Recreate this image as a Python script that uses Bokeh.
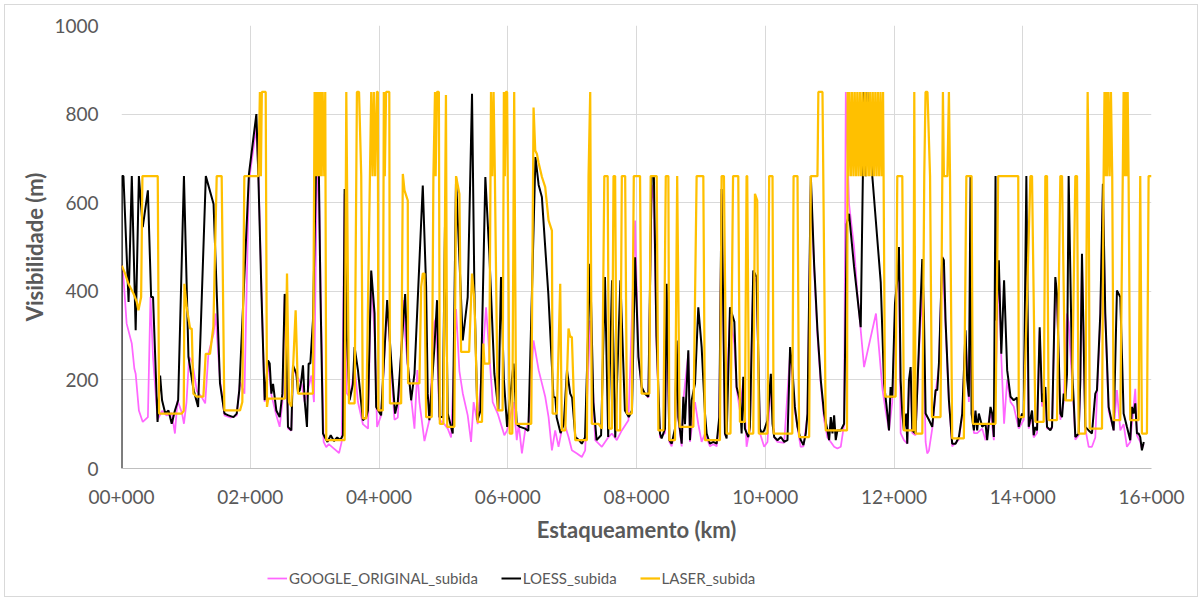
from bokeh.plotting import figure
from bokeh.layouts import column
from bokeh.models import Legend, LegendItem, FixedTicker, Range1d
from bokeh.embed import file_html
from bokeh.resources import INLINE

# Station (km) and visibility (m) pairs for each series
google_pts = [
    (0.0, 460), (0.03, 432), (0.08, 327), (0.16, 282), (0.2, 225), (0.22, 214), (0.27, 131), (0.33, 105),
    (0.41, 116), (0.45, 387), (0.49, 250), (0.56, 110), (0.63, 130), (0.7, 120), (0.78, 125), (0.83, 79),
    (0.87, 154), (0.94, 125), (0.97, 101), (1.01, 150), (1.05, 252), (1.1, 240), (1.17, 175), (1.25, 160),
    (1.3, 147), (1.35, 259), (1.43, 304), (1.46, 350), (1.53, 200), (1.6, 120), (1.7, 115), (1.79, 120),
    (1.84, 195), (1.91, 169), (1.98, 650),
    (2.095, 770), (2.13, 650), (2.2, 270), (2.224, 150), (2.276, 240), (2.33, 165), (2.405, 120), (2.457, 94),
    (2.5, 150), (2.535, 390), (2.586, 90), (2.638, 85), (2.664, 230), (2.716, 210), (2.8, 190), (2.845, 150),
    (2.9, 180), (2.95, 210), (2.99, 150), (3.03, 600), (3.06, 700), (3.1, 350), (3.14, 60), (3.18, 48),
    (3.22, 55), (3.3, 45), (3.38, 35), (3.42, 60), (3.466, 620), (3.5, 170), (3.55, 160), (3.621, 230),
    (3.673, 150), (3.75, 100), (3.83, 90), (3.879, 440), (3.931, 300), (3.97, 94),
    (4.033, 120), (4.127, 370), (4.189, 230), (4.24, 110), (4.292, 115), (4.385, 380), (4.406, 300),
    (4.447, 230), (4.499, 160), (4.551, 90), (4.595, 222), (4.628, 150), (4.706, 62), (4.783, 110),
    (4.861, 330), (4.887, 340), (4.939, 110), (5.016, 100), (5.068, 90), (5.12, 70), (5.197, 360),
    (5.249, 220), (5.301, 170), (5.378, 120), (5.43, 60), (5.47, 150), (5.533, 100), (5.585, 200),
    (5.663, 364), (5.766, 150), (5.844, 124), (5.947, 75),
    (5.99, 86), (6.09, 150), (6.14, 64), (6.17, 100), (6.22, 34), (6.27, 86), (6.32, 101), (6.4, 289),
    (6.48, 222), (6.582, 162), (6.634, 116), (6.686, 41), (6.737, 86), (6.789, 49), (6.867, 109),
    (6.944, 71), (6.996, 41), (7.075, 34), (7.151, 26), (7.203, 41), (7.28, 334), (7.358, 64), (7.462, 49),
    (7.565, 71), (7.617, 79), (7.694, 64), (7.772, 86), (7.875, 109),
    (7.978, 560), (8.03, 250), (8.08, 180), (8.184, 160), (8.236, 640), (8.27, 600), (8.31, 280),
    (8.365, 70), (8.443, 80), (8.469, 400), (8.51, 60), (8.546, 50), (8.598, 85), (8.624, 280), (8.65, 110),
    (8.702, 50), (8.728, 155), (8.805, 260), (8.831, 60), (8.909, 150), (8.96, 100), (9.012, 60),
    (9.064, 79), (9.141, 50), (9.193, 55), (9.245, 50), (9.286, 110), (9.322, 620), (9.374, 75),
    (9.452, 350), (9.52, 280), (9.555, 180), (9.607, 130), (9.659, 200), (9.71, 49), (9.762, 90),
    (9.814, 440), (9.865, 420), (9.917, 80),
    (9.983, 49), (10.035, 60), (10.087, 200), (10.139, 70), (10.19, 60), (10.294, 58), (10.386, 260),
    (10.46, 130), (10.55, 49), (10.593, 50), (10.656, 120), (10.708, 640), (10.759, 450), (10.811, 300),
    (10.863, 190), (10.914, 110), (10.966, 70), (11.018, 60), (11.07, 49), (11.121, 45), (11.173, 49),
    (11.225, 100), (11.251, 850), (11.302, 597), (11.38, 500), (11.432, 394), (11.535, 229), (11.72, 350),
    (11.82, 180), (11.87, 130),
    (11.922, 86), (11.973, 150), (12.015, 340), (12.051, 420), (12.077, 480), (12.103, 80), (12.154, 64),
    (12.206, 56), (12.232, 190), (12.258, 220), (12.284, 80), (12.335, 75), (12.387, 260), (12.439, 400),
    (12.491, 60), (12.516, 34), (12.542, 40), (12.594, 90), (12.646, 170), (12.698, 230), (12.749, 480),
    (12.801, 320), (12.853, 150), (12.904, 50), (13.008, 65), (13.06, 120), (13.111, 300), (13.163, 150),
    (13.2, 300), (13.241, 80), (13.292, 80), (13.37, 90), (13.422, 64), (13.499, 130), (13.551, 64),
    (13.6, 300), (13.628, 460), (13.667, 250), (13.71, 101), (13.758, 200), (13.81, 150), (13.86, 140),
    (13.938, 90), (14.015, 110), (14.056, 500), (14.093, 90), (14.144, 120), (14.17, 70), (14.222, 80),
    (14.263, 310), (14.3, 140), (14.351, 170), (14.377, 90), (14.455, 90), (14.506, 420), (14.532, 380),
    (14.584, 110), (14.636, 150), (14.688, 350), (14.713, 330), (14.765, 200), (14.791, 140), (14.817, 65),
    (14.869, 75), (14.894, 190), (14.92, 470), (14.972, 90), (15.024, 49), (15.075, 49), (15.127, 70),
    (15.153, 160), (15.205, 340), (15.245, 620), (15.282, 340), (15.334, 130), (15.412, 86), (15.463, 177),
    (15.515, 86), (15.567, 100), (15.618, 49), (15.67, 60), (15.722, 140), (15.748, 180), (15.774, 75),
    (15.825, 60), (15.851, 45), (15.88, 55),
]

loess_pts = [
    (0.0, 0), (0.005, 660), (0.03, 660), (0.11, 376), (0.16, 660), (0.22, 312), (0.27, 660), (0.33, 545),
    (0.41, 628), (0.46, 387), (0.49, 387), (0.56, 105), (0.6, 210), (0.63, 154), (0.68, 124), (0.73, 131),
    (0.78, 101), (0.83, 131), (0.88, 154), (0.97, 660), (1.04, 252), (1.12, 177), (1.19, 139), (1.31, 660),
    (1.43, 597), (1.53, 192), (1.6, 124), (1.66, 120), (1.74, 116), (1.79, 124), (1.83, 177), (1.98, 665),
    (2.095, 800), (2.126, 660), (2.173, 400), (2.199, 274), (2.224, 154), (2.276, 244), (2.302, 237),
    (2.328, 169), (2.354, 191), (2.405, 131), (2.457, 116), (2.499, 169), (2.535, 394), (2.55, 387),
    (2.586, 94), (2.638, 86), (2.664, 233), (2.716, 214), (2.742, 172), (2.768, 176), (2.793, 199),
    (2.819, 233), (2.845, 154), (2.881, 94), (2.907, 237), (2.933, 237), (2.974, 334), (3.02, 660),
    (3.05, 850), (3.09, 400), (3.13, 79), (3.16, 70), (3.2, 60), (3.25, 75), (3.3, 62), (3.35, 70),
    (3.4, 65), (3.44, 75), (3.466, 631), (3.5, 300), (3.543, 154), (3.595, 190), (3.621, 274), (3.673, 222),
    (3.75, 109), (3.802, 116), (3.828, 131), (3.879, 447), (3.931, 350),
    (3.956, 139), (4.033, 120), (4.127, 380), (4.189, 244), (4.25, 124), (4.292, 150), (4.406, 394),
    (4.447, 237), (4.499, 154), (4.551, 214), (4.68, 639), (4.732, 410), (4.757, 169), (4.783, 109),
    (4.861, 274), (4.902, 380), (4.939, 116), (4.99, 116), (5.026, 560), (5.068, 124), (5.145, 79),
    (5.197, 658), (5.301, 289), (5.378, 387), (5.445, 846), (5.482, 400), (5.53, 109), (5.575, 130),
    (5.652, 658), (5.714, 485), (5.792, 214), (5.854, 131), (5.895, 432), (5.94, 200),
    (5.99, 94), (6.09, 237), (6.14, 100), (6.19, 94), (6.27, 90), (6.32, 85), (6.43, 703), (6.48, 640),
    (6.53, 613), (6.63, 395), (6.71, 162), (6.74, 160), (6.76, 115), (6.82, 80), (6.87, 100), (6.92, 222),
    (6.97, 169), (7.0, 160), (7.05, 71), (7.1, 65), (7.15, 56), (7.2, 70), (7.28, 462), (7.33, 150),
    (7.38, 64), (7.45, 75), (7.51, 432), (7.56, 71), (7.62, 425), (7.67, 70), (7.75, 425), (7.82, 131),
    (7.88, 116), (7.93, 131),
    (7.978, 477), (8.03, 252), (8.08, 184), (8.13, 169), (8.184, 162), (8.236, 660), (8.27, 660), (8.31, 300),
    (8.365, 79), (8.39, 68), (8.443, 90), (8.469, 417), (8.51, 64), (8.546, 56), (8.598, 90), (8.624, 289),
    (8.65, 116), (8.702, 56), (8.728, 162), (8.753, 100), (8.805, 267), (8.831, 64), (8.857, 154),
    (8.909, 192), (8.96, 364), (9.012, 274), (9.064, 124), (9.09, 79), (9.141, 56), (9.193, 60), (9.245, 56),
    (9.286, 116), (9.322, 631), (9.374, 79), (9.4, 68), (9.452, 364), (9.52, 331), (9.555, 184), (9.607, 154),
    (9.633, 79), (9.659, 207), (9.684, 90), (9.736, 71), (9.762, 94), (9.814, 447), (9.865, 432), (9.917, 90),
    (9.948, 79), (9.983, 86), (10.035, 109), (10.087, 214), (10.113, 101), (10.139, 71), (10.19, 64),
    (10.242, 71), (10.294, 60), (10.345, 64), (10.386, 274), (10.423, 222), (10.46, 139), (10.501, 94),
    (10.552, 64), (10.593, 53), (10.63, 79), (10.656, 124), (10.708, 660), (10.759, 462), (10.811, 312),
    (10.863, 199), (10.914, 124), (10.966, 86), (10.992, 64), (11.018, 116), (11.044, 79), (11.07, 120),
    (11.095, 64), (11.121, 86), (11.173, 86), (11.225, 101), (11.266, 552), (11.302, 575), (11.38, 455),
    (11.483, 319), (11.535, 850), (11.561, 660), (11.587, 850), (11.664, 658), (11.794, 420), (11.845, 192),
    (11.897, 124),
    (11.922, 86), (11.947, 184), (11.973, 160), (12.015, 372), (12.051, 425), (12.077, 500), (12.103, 199),
    (12.129, 124), (12.154, 86), (12.19, 124), (12.206, 56), (12.232, 199), (12.258, 229), (12.284, 86),
    (12.335, 79), (12.387, 274), (12.439, 473), (12.465, 350), (12.491, 124), (12.542, 110), (12.594, 94),
    (12.646, 177), (12.672, 177), (12.698, 237), (12.749, 477), (12.775, 470), (12.801, 334), (12.853, 154),
    (12.904, 56), (12.956, 56), (13.008, 71), (13.06, 124), (13.111, 312), (13.137, 199), (13.163, 162),
    (13.189, 660), (13.205, 124), (13.241, 86), (13.266, 131), (13.292, 86), (13.318, 124), (13.37, 94),
    (13.422, 101), (13.447, 64), (13.499, 139), (13.525, 124), (13.551, 71), (13.577, 660), (13.59, 334),
    (13.628, 470), (13.667, 259), (13.71, 425), (13.758, 222), (13.81, 162), (13.86, 154),
    (13.912, 160), (13.938, 94), (13.989, 124), (14.015, 120), (14.056, 660), (14.093, 94), (14.144, 131),
    (14.17, 75), (14.196, 94), (14.222, 86), (14.263, 319), (14.3, 150), (14.351, 184), (14.377, 94),
    (14.429, 86), (14.455, 94), (14.506, 432), (14.532, 394), (14.584, 124), (14.61, 116), (14.636, 169),
    (14.662, 154), (14.688, 214), (14.713, 660), (14.765, 229), (14.791, 154), (14.817, 71), (14.869, 79),
    (14.894, 199), (14.92, 485), (14.972, 94), (15.024, 86), (15.075, 79), (15.127, 169), (15.153, 177),
    (15.205, 350), (15.245, 643), (15.282, 350), (15.334, 139), (15.412, 86), (15.463, 402), (15.515, 387),
    (15.567, 124), (15.618, 94), (15.67, 64), (15.696, 139), (15.722, 124), (15.748, 147), (15.774, 79),
    (15.8, 79), (15.825, 71), (15.851, 41), (15.88, 60),
]

laser_pts = [
    (0.005, 458), (0.056, 440), (0.108, 417), (0.186, 395), (0.237, 376), (0.263, 357), (0.305, 387),
    (0.325, 660), (0.563, 660), (0.584, 124), (0.936, 124), (0.967, 130), (0.977, 417), (1.013, 364),
    (1.065, 316), (1.091, 316), (1.117, 169), (1.168, 162), (1.272, 162), (1.308, 259), (1.375, 259),
    (1.427, 320), (1.479, 660), (1.556, 660), (1.598, 131), (1.841, 131), (1.877, 150), (1.908, 660),
    (2.126, 660), (2.15, 850), (2.165, 660), (2.18, 850), (2.24, 850), (2.26, 139), (2.28, 158), (2.54, 158),
    (2.571, 440), (2.602, 150), (2.638, 140), (2.705, 357), (2.742, 169), (2.974, 169), (3.0, 850),
    (3.015, 660), (3.03, 850), (3.05, 660), (3.065, 850), (3.08, 660), (3.095, 850), (3.11, 660),
    (3.125, 850), (3.15, 660), (3.165, 850), (3.181, 64), (3.466, 64), (3.492, 850), (3.533, 147),
    (3.621, 147), (3.657, 850), (3.69, 850), (3.724, 660), (3.75, 113), (3.802, 113), (3.879, 850),
    (3.9, 660), (3.92, 850), (3.94, 660), (3.967, 850), (3.982, 850), (3.99, 131),
    (4.059, 131), (4.075, 850), (4.09, 660), (4.11, 850), (4.16, 850), (4.17, 147), (4.344, 147),
    (4.37, 665), (4.396, 628), (4.447, 605), (4.452, 192), (4.628, 192), (4.655, 410), (4.68, 440),
    (4.706, 440), (4.732, 116), (4.82, 116), (4.845, 660), (4.87, 850), (4.88, 660), (4.9, 850), (4.93, 850),
    (4.945, 101), (5.0, 101), (5.04, 843), (5.06, 94), (5.17, 94), (5.197, 660), (5.249, 620), (5.275, 263),
    (5.4, 263), (5.445, 440), (5.482, 380), (5.533, 105), (5.6, 105), (5.621, 282), (5.637, 237),
    (5.714, 237), (5.74, 850), (5.76, 660), (5.78, 850), (5.8, 660), (5.844, 131), (5.92, 131),
    (5.94, 850), (5.955, 660), (5.97, 850), (5.99, 850), (6.03, 79), (6.07, 79), (6.1, 850), (6.13, 101),
    (6.365, 101), (6.401, 815), (6.427, 718), (6.453, 710), (6.479, 690), (6.531, 658), (6.582, 635),
    (6.634, 560), (6.686, 537), (6.697, 124), (6.763, 124), (6.815, 417), (6.84, 86), (6.893, 86),
    (6.944, 316), (6.97, 297), (6.996, 297), (7.048, 64), (7.229, 64), (7.255, 660), (7.281, 850),
    (7.306, 101), (7.41, 101), (7.462, 90), (7.5, 660), (7.552, 660), (7.575, 90), (7.617, 90), (7.643, 660),
    (7.668, 660), (7.694, 86), (7.746, 86), (7.772, 660), (7.824, 660), (7.85, 124), (7.927, 124),
    (7.958, 660),
    (8.055, 660), (8.08, 169), (8.2, 169), (8.22, 660), (8.314, 660), (8.34, 86), (8.417, 86), (8.455, 660),
    (8.495, 660), (8.51, 64), (8.598, 64), (8.632, 660), (8.67, 94), (8.883, 94), (8.934, 660), (9.038, 660),
    (9.064, 64), (9.296, 64), (9.322, 660), (9.358, 660), (9.4, 79), (9.46, 79), (9.5, 660), (9.581, 660),
    (9.607, 105), (9.684, 105), (9.71, 660), (9.72, 660), (9.75, 79), (9.814, 79), (9.84, 620), (9.875, 605),
    (9.9, 79),
    (10.035, 79), (10.061, 660), (10.113, 660), (10.13, 79), (10.42, 79), (10.44, 660), (10.501, 660),
    (10.526, 71), (10.682, 71), (10.708, 660), (10.811, 660), (10.825, 850), (10.889, 850), (10.94, 86),
    (11.27, 86), (11.28, 850), (11.29, 660), (11.31, 850), (11.33, 660), (11.35, 850), (11.37, 660),
    (11.39, 850), (11.41, 660), (11.43, 850), (11.45, 660), (11.47, 850), (11.49, 660), (11.51, 850),
    (11.53, 660), (11.55, 850), (11.57, 660), (11.59, 850), (11.61, 660), (11.63, 850), (11.65, 660),
    (11.67, 850), (11.69, 660), (11.71, 850), (11.73, 660), (11.75, 850), (11.77, 660), (11.79, 850),
    (11.81, 660), (11.83, 850), (11.86, 162),
    (12.025, 162), (12.051, 660), (12.129, 660), (12.154, 86), (12.3, 86), (12.315, 850), (12.335, 79),
    (12.44, 79), (12.47, 660), (12.49, 850), (12.52, 850), (12.56, 660), (12.59, 116), (12.723, 116),
    (12.76, 850), (12.775, 660), (12.83, 660), (12.853, 850), (12.87, 660), (12.904, 68), (13.085, 68),
    (13.124, 660), (13.205, 660), (13.225, 101), (13.577, 101), (13.618, 660), (13.93, 660),
    (13.938, 116), (14.015, 116), (14.119, 660), (14.144, 660), (14.196, 105), (14.325, 105), (14.351, 660),
    (14.377, 660), (14.403, 109), (14.532, 109), (14.584, 660), (14.61, 660), (14.662, 154), (14.765, 154),
    (14.817, 660), (14.843, 660), (14.869, 79), (14.972, 79), (15.008, 850), (15.024, 660), (15.04, 90),
    (15.231, 90), (15.256, 660), (15.27, 850), (15.28, 660), (15.295, 850), (15.31, 660), (15.33, 850),
    (15.35, 660), (15.37, 850), (15.39, 660), (15.412, 109), (15.515, 109), (15.567, 850), (15.58, 660),
    (15.595, 850), (15.61, 660), (15.63, 850), (15.644, 660), (15.67, 109), (15.8, 109), (15.825, 660),
    (15.851, 79), (15.929, 79), (15.955, 660), (16.0, 660),
]

series_names = ["GOOGLE_ORIGINAL_subida", "LOESS_subida", "LASER_subida"]
series_colors = ["#FF66FF", "#000000", "#FFC000"]
series_widths = [1.75, 2, 2.25]

x_ticks = [0, 2, 4, 6, 8, 10, 12, 14, 16]
x_tick_labels = ["00+000", "02+000", "04+000", "06+000", "08+000",
                 "10+000", "12+000", "14+000", "16+000"]
y_ticks = [0, 200, 400, 600, 800, 1000]

FONT = "Lato"
TEXT = "#595959"
GRID = "#D9D9D9"

p = figure(width=1202, height=548, output_backend="svg", toolbar_location=None,
           x_range=Range1d(0, 16), y_range=Range1d(0, 1000),
           min_border_left=121, min_border_right=51, min_border_top=25, min_border_bottom=80,
           background_fill_color=None, border_fill_color=None)
p.outline_line_color = None

# axes
p.xaxis.ticker = FixedTicker(ticks=x_ticks)
p.xaxis.major_label_overrides = {t: s for t, s in zip(x_ticks, x_tick_labels)}
p.yaxis.ticker = FixedTicker(ticks=y_ticks)
for ax in (p.xaxis, p.yaxis):
    ax.major_tick_line_color = None
    ax.minor_tick_line_color = None
    ax.major_label_text_font = FONT
    ax.major_label_text_font_size = "19px"
    ax.major_label_text_color = TEXT
    ax.axis_label_text_font = FONT
    ax.axis_label_text_font_size = "22px"
    ax.axis_label_text_font_style = "bold"
    ax.axis_label_text_color = TEXT
p.xaxis.axis_line_color = "#BFBFBF"
p.yaxis.axis_line_color = None
p.xaxis.axis_label = "Estaqueamento (km)"
p.yaxis.axis_label = "Visibilidade (m)"
p.xaxis.major_label_standoff = 15
p.xaxis.axis_label_standoff = 9
p.yaxis.major_label_standoff = 17
p.yaxis.axis_label_standoff = 3

p.xgrid.grid_line_color = GRID
p.ygrid.grid_line_color = GRID

pts_all = [google_pts, loess_pts, laser_pts]
for pts, col, lw in zip(pts_all, series_colors, series_widths):
    p.line([k for k, v in pts], [v for k, v in pts], line_color=col, line_width=lw)

# legend strip under the chart (its frame lines up with the chart frame)
leg = figure(width=1202, height=53, output_backend="svg", toolbar_location=None,
             x_range=Range1d(0, 1), y_range=Range1d(0, 1),
             x_axis_location=None, y_axis_location=None, min_border=0,
             background_fill_color=None, border_fill_color=None)
leg.outline_line_color = None
leg.grid.visible = False
items = []
nan = float("nan")
for name, col, lw in zip(series_names, series_colors, series_widths):
    r = leg.line([nan], [nan], line_color=col, line_width=lw)
    items.append(LegendItem(label=name, renderers=[r]))
leg.add_layout(Legend(items=items, orientation="horizontal", location=(146, 14),
                      label_text_font=FONT, label_text_font_size="15px", label_text_color=TEXT,
                      glyph_width=20, glyph_height=18, label_standoff=2, spacing=23,
                      padding=0, margin=0, border_line_color=None, background_fill_alpha=0))

# light frame around the whole chart area
layout = column(p, leg, spacing=0,
                styles={"background-color": "white",
                        "outline": "1px solid #D9D9D9", "outline-offset": "-5px"})
open("out.html", "w").write(file_html(layout, INLINE))
